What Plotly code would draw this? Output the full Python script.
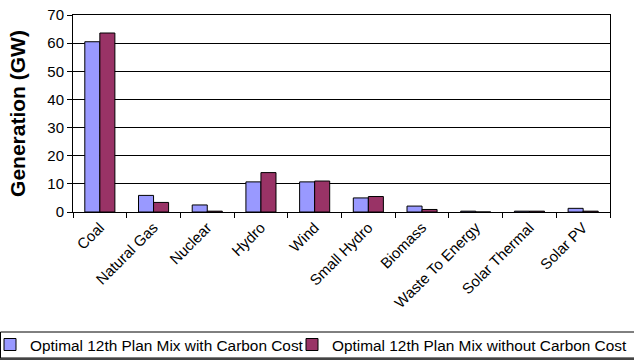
import plotly.graph_objects as go

categories = ["Coal", "Natural Gas", "Nuclear", "Hydro", "Wind", "Small Hydro",
              "Biomass", "Waste To Energy", "Solar Thermal", "Solar PV"]
with_carbon = [60.5, 5.9, 2.5, 10.7, 10.7, 5.0, 2.1, 0.3, 0.3, 1.3]
without_carbon = [63.6, 3.4, 0.3, 14.0, 11.0, 5.5, 0.9, 0.0, 0.3, 0.3]
y_ticks = [0, 10, 20, 30, 40, 50, 60, 70]

font_family = "Liberation Sans, Arial, sans-serif"
W, H = 634, 361
M_L, M_R, M_T, M_B = 73, 24, 15, 149
plot_w = W - M_L - M_R
plot_h = H - M_T - M_B


def px_to_paper_x(px):
    return (px - M_L) / plot_w


def px_to_paper_y(py):
    return (H - M_B - py) / plot_h


fig = go.Figure()
fig.add_trace(go.Bar(
    x=categories, y=with_carbon,
    name="Optimal 12th Plan Mix with Carbon Cost",
    marker=dict(color="#9999FF", line=dict(color="#000000", width=1)),
    legend="legend",
))
fig.add_trace(go.Bar(
    x=categories, y=without_carbon,
    name="Optimal 12th Plan Mix without Carbon Cost",
    marker=dict(color="#993366", line=dict(color="#000000", width=1)),
    legend="legend2",
))

legend_common = dict(
    orientation="h",
    xref="paper", xanchor="left",
    yref="paper", y=px_to_paper_y(345), yanchor="middle",
    bgcolor="rgba(0,0,0,0)", borderwidth=0,
    font=dict(size=15.4, family=font_family, color="#000000"),
    itemwidth=30,
)

fig.update_layout(
    width=W, height=H,
    margin=dict(l=M_L, r=M_R, t=M_T, b=M_B, autoexpand=False),
    paper_bgcolor="white", plot_bgcolor="white",
    font=dict(family=font_family, size=15, color="#000000"),
    barmode="group", bargap=0.44, bargroupgap=0.0,
    showlegend=True,
    legend=dict(legend_common, x=px_to_paper_x(-10)),
    legend2=dict(legend_common, x=px_to_paper_x(292)),
    xaxis=dict(
        tickangle=-45,
        showline=True, linecolor="#000000", linewidth=1, mirror=True,
        ticks="outside", ticklen=5, tickcolor="#000000",
        tickson="boundaries",
        showgrid=False,
        tickfont=dict(size=15),
    ),
    yaxis=dict(
        range=[0, 70],
        tickvals=y_ticks,
        showline=True, linecolor="#000000", linewidth=1, mirror=True,
        ticks="outside", ticklen=5, tickcolor="#000000",
        showgrid=True, gridcolor="#000000", gridwidth=1,
        zeroline=False,
        tickfont=dict(size=15),
        title=dict(text="<b>Generation (GW)</b>", font=dict(size=21), standoff=15),
    ),
)

# Frame around the shared legend strip, with a darker bottom edge
fig.add_shape(
    type="rect", xref="paper", yref="paper",
    x0=px_to_paper_x(0.5), x1=px_to_paper_x(W + 5),
    y0=px_to_paper_y(358), y1=px_to_paper_y(332),
    line=dict(color="#000000", width=1), fillcolor="rgba(0,0,0,0)",
    layer="below",
)
fig.add_shape(
    type="line", xref="paper", yref="paper",
    x0=px_to_paper_x(0), x1=px_to_paper_x(W + 5),
    y0=px_to_paper_y(359), y1=px_to_paper_y(359),
    line=dict(color="#444444", width=2),
)

fig.write_html("out.html")
